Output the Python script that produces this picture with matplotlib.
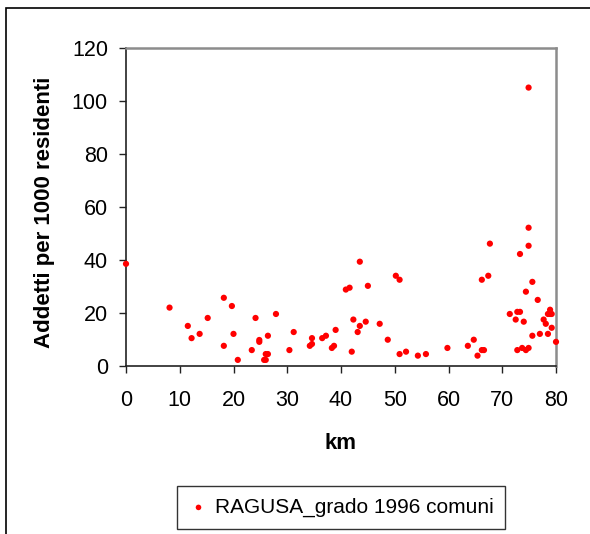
import matplotlib
matplotlib.use("Agg")
import matplotlib.pyplot as plt
from matplotlib.patches import Rectangle

km = [0.0, 8.1, 11.5, 12.2, 13.7, 15.2, 18.2, 18.2, 19.7, 20.0, 20.8, 23.4, 24.1,
      24.8, 24.8, 25.7, 26.0, 26.0, 26.4, 26.4, 27.9, 30.4, 31.2, 34.2, 34.6, 34.6,
      36.5, 37.2, 38.3, 38.7, 39.0, 40.9, 41.6, 42.0, 42.3, 43.1, 43.5, 43.5, 44.6,
      45.0, 47.2, 48.7, 50.2, 50.9, 50.9, 52.1, 54.3, 55.8, 59.8, 63.6, 64.7, 65.4,
      66.2, 66.2, 66.6, 67.4, 67.7, 71.4, 72.5, 72.8, 73.3, 72.8, 73.3, 73.7, 74.0,
      74.4, 74.4, 74.9, 74.9, 74.9, 74.9, 75.6, 75.6, 76.6, 77.0, 77.7, 78.1, 78.5,
      78.5, 78.9, 78.9, 79.2, 79.2, 80.0]
addetti = [38.5, 22.0, 15.1, 10.5, 12.1, 18.1, 25.7, 7.6, 22.6, 12.1, 2.3, 6.0, 18.1,
           9.8, 9.1, 2.3, 2.3, 4.5, 4.5, 11.4, 19.6, 6.0, 12.8, 7.6, 8.3, 10.5,
           10.5, 11.4, 6.8, 7.6, 13.6, 28.8, 29.5, 5.4, 17.5, 12.8, 39.3, 15.1, 16.7,
           30.2, 15.9, 9.9, 34.0, 32.5, 4.5, 5.4, 3.9, 4.5, 6.8, 7.6, 9.9, 3.9,
           32.5, 6.0, 6.0, 34.0, 46.1, 19.6, 17.5, 20.4, 20.4, 6.0, 42.2, 6.8, 16.7,
           28.0, 6.0, 104.9, 52.1, 45.3, 6.8, 31.7, 11.4, 24.9, 12.1, 17.5, 15.9, 12.1,
           19.6, 21.2, 19.6, 19.6, 14.4, 9.1]

series_label = "RAGUSA_grado 1996 comuni"
x_ticks = [0, 10, 20, 30, 40, 50, 60, 70, 80]
y_ticks = [0, 20, 40, 60, 80, 100, 120]

plt.rcParams['font.family'] = ['Liberation Sans', 'DejaVu Sans']

W, H = 590, 534
fig = plt.figure(figsize=(W / 100, H / 100), dpi=100)

# outer chart frame (cut off at right and bottom)
fig.patches.append(Rectangle((6 / W, -0.05), 1.2, 1 - 7.5 / H + 0.05,
                             transform=fig.transFigure, fill=False,
                             edgecolor='black', linewidth=1.2))

ax = fig.add_axes([126 / W, 1 - 366 / H, 430 / W, (366 - 47.5) / H])
ax.scatter(km, addetti, s=20, color='#ff0000', edgecolors='none', zorder=3,
           clip_on=False, label=series_label)

ax.set_xlim(0, 80)
ax.set_ylim(0, 120)
ax.set_xticks(x_ticks)
ax.set_yticks(y_ticks)

for side in ['left', 'bottom']:
    ax.spines[side].set_color('#222222')
    ax.spines[side].set_linewidth(1.2)
for side in ['top', 'right']:
    ax.spines[side].set_color('#8c8c8c')
    ax.spines[side].set_linewidth(1.8)

ax.tick_params(axis='both', direction='out', length=5, width=1, color='#222222',
               labelsize=15.5)
ax.tick_params(axis='x', pad=12)
ax.tick_params(axis='y', pad=8)

ax.set_xlabel('km', fontsize=16, fontweight='bold', labelpad=16)
ax.set_ylabel('Addetti per 1000 residenti', fontsize=16, fontweight='bold')
ax.yaxis.set_label_coords(-0.165, 0.482)

leg = fig.legend(loc='center', bbox_to_anchor=(341 / W, 1 - 507.5 / H),
                 fontsize=15, frameon=True, fancybox=False, edgecolor='black',
                 handletextpad=0.3, handlelength=1.0, borderpad=0.55,
                 markerscale=0.9, borderaxespad=0)
leg.get_frame().set_linewidth(1.0)

fig.savefig('out.png', dpi=100)
